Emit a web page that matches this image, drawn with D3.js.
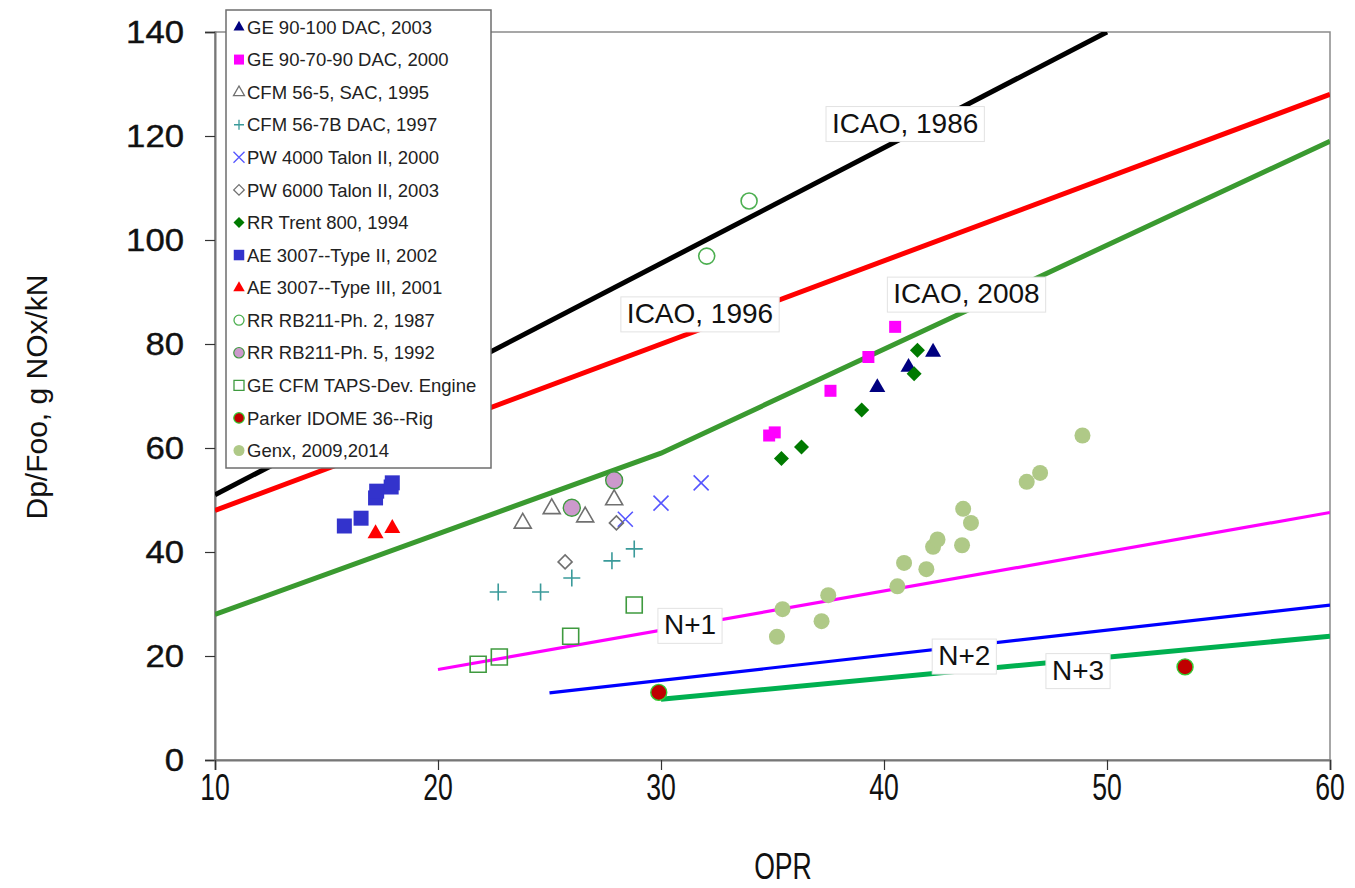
<!DOCTYPE html>
<html>
<head>
<meta charset="utf-8">
<script src="https://cdn.jsdelivr.net/npm/d3@7"></script>
<style>
  body { margin: 0; background: #fff; }
  text { font-family: Arial, "Liberation Sans", sans-serif; }
</style>
</head>
<body>
<script>
const width = 1355;
const height = 888;

// tick labels
const xTicks = [10, 20, 30, 40, 50, 60];
const yTicks = [0, 20, 40, 60, 80, 100, 120, 140];

// regulation / goal lines [OPR, Dp/Foo]
const icao1986 = [[10, 51], [50, 140]];
const icao1996 = [[10, 48], [60, 128]];
const icao2008 = [[10, 28], [30, 59], [60, 119]];
const nPlus1 = [[20, 17.4], [60, 47.6]];
const nPlus2 = [[25, 12.9], [60, 29.8]];
const nPlus3 = [[30, 11.7], [60, 23.8]];

// engine data [OPR, Dp/Foo]
const ge90_100 = [[39.7, 71.7], [41.1, 75.6], [42.2, 78.5]];
const ge90_7090 = [[34.85, 62.4], [35.1, 63.0], [37.6, 71.0], [39.3, 77.5], [40.5, 83.3]];
const cfm56_5 = [[23.8, 45.6], [25.1, 48.4], [26.6, 46.8], [27.9, 50.1]];
const cfm56_7b = [[22.7, 32.3], [24.6, 32.3], [26.0, 35.0], [27.8, 38.3], [28.8, 40.6]];
const pw4000 = [[28.4, 46.3], [30.0, 49.4], [31.8, 53.3]];
const pw6000 = [[25.7, 38.1], [28.0, 45.6]];
const trent800 = [[35.4, 58.0], [36.3, 60.2], [39.0, 67.3], [41.35, 74.3], [41.5, 78.8]];
const ae3007t2 = [[15.8, 45.0], [16.55, 46.5], [17.2, 50.4], [17.25, 51.7], [17.9, 52.5], [17.95, 53.3]];
const ae3007t3 = [[17.2, 43.6], [17.95, 44.6]];
const rb211ph2 = [[32.05, 96.9], [33.95, 107.5]];
const rb211ph5 = [[26.0, 48.5], [27.9, 53.8]];
const tapsDev = [[21.8, 18.4], [22.75, 19.8], [25.95, 23.8], [28.8, 29.8]];
const parkerIdome = [[29.9, 13.0], [53.5, 17.9]];
const genx = [[35.2, 23.7], [35.45, 29.0], [37.2, 26.7], [37.5, 31.7], [40.6, 33.4],
  [40.9, 37.9], [41.9, 36.7], [42.2, 41.0], [42.4, 42.4], [43.5, 41.3], [43.55, 48.3],
  [43.9, 45.6], [46.4, 53.5], [47.0, 55.2], [48.9, 62.4]];

const legendNames = ['GE 90-100 DAC, 2003', 'GE 90-70-90 DAC, 2000', 'CFM 56-5, SAC, 1995',
  'CFM 56-7B DAC, 1997', 'PW 4000 Talon II, 2000', 'PW 6000 Talon II, 2003', 'RR Trent 800, 1994',
  'AE 3007--Type II, 2002', 'AE 3007--Type III, 2001', 'RR RB211-Ph. 2, 1987', 'RR RB211-Ph. 5, 1992',
  'GE CFM TAPS-Dev. Engine', 'Parker IDOME 36--Rig', 'Genx, 2009,2014'];

const series = [
  { data: ge90_100, shape: 'triangle', size: 16, legendSize: 11, fill: '#000080', stroke: 'none' },
  { data: ge90_7090, shape: 'square', size: 12, legendSize: 10, fill: '#ff00ff', stroke: 'none' },
  { data: cfm56_5, shape: 'triangle', size: 17, legendSize: 11, fill: 'none', stroke: '#707070' },
  { data: cfm56_7b, shape: 'plus', size: 17, legendSize: 10, fill: 'none', stroke: '#3a9a9a' },
  { data: pw4000, shape: 'times', size: 15, legendSize: 11, fill: 'none', stroke: '#5555ff' },
  { data: pw6000, shape: 'diamond', size: 14, legendSize: 10.5, fill: 'none', stroke: '#707070' },
  { data: trent800, shape: 'diamond', size: 15, legendSize: 11, fill: '#007a00', stroke: 'none' },
  { data: ae3007t2, shape: 'square', size: 15, legendSize: 10.5, fill: '#3333cc', stroke: 'none' },
  { data: ae3007t3, shape: 'triangle', size: 16, legendSize: 11.5, fill: '#ff0000', stroke: 'none' },
  { data: rb211ph2, shape: 'circle', size: 16, legendSize: 10, fill: 'none', stroke: '#4caf50' },
  { data: rb211ph5, shape: 'circle', size: 17, legendSize: 10.5, fill: '#cc99cc', stroke: '#3f9a3f' },
  { data: tapsDev, shape: 'square', size: 16, legendSize: 10, fill: 'none', stroke: '#3f9a3f' },
  { data: parkerIdome, shape: 'circle', size: 16, legendSize: 10.5, fill: '#c00000', stroke: '#33cc33' },
  { data: genx, shape: 'circle', size: 16, legendSize: 11, fill: '#afc987', stroke: 'none' },
];

const lines = [
  { data: icao1986, color: '#000000', w: 5 },
  { data: icao1996, color: '#ff0000', w: 5 },
  { data: icao2008, color: '#3a9a30', w: 5 },
  { data: nPlus1, color: '#ff00ff', w: 3.2 },
  { data: nPlus2, color: '#0000ff', w: 3.2 },
  { data: nPlus3, color: '#00b050', w: 5 },
];

const lineLabels = [
  { text: 'ICAO, 1986', at: [40.95, 122.6] },
  { text: 'ICAO, 1996', at: [31.75, 86.0] },
  { text: 'ICAO, 2008', at: [43.7, 89.8] },
  { text: 'N+1', at: [31.3, 26.1] },
  { text: 'N+2', at: [43.6, 20.2] },
  { text: 'N+3', at: [48.7, 17.4] },
];

const x = d3.scaleLinear().domain([10, 60]).range([215, 1330]);
const y = d3.scaleLinear().domain([0, 140]).range([760, 32]);

function markerPath(shape, s) {
  const h = s / 2;
  switch (shape) {
    case 'triangle':
      return `M0,${-0.56 * s}L${h},${0.31 * s}L${-h},${0.31 * s}Z`;
    case 'square':
      return `M${-h},${-h}H${h}V${h}H${-h}Z`;
    case 'diamond':
      return `M0,${-h}L${h},0L0,${h}L${-h},0Z`;
    case 'plus':
      return `M${-h},0H${h}M0,${-h}V${h}`;
    case 'times':
      return `M${-h},${-h}L${h},${h}M${h},${-h}L${-h},${h}`;
    default:
      return `M${h},0A${h},${h} 0 1,1 ${-h},0A${h},${h} 0 1,1 ${h},0Z`;
  }
}

const svg = d3.select('body').append('svg')
  .attr('width', width)
  .attr('height', height)
  .attr('viewBox', `0 0 ${width} ${height}`);

svg.append('rect').attr('width', width).attr('height', height).attr('fill', '#fff');

svg.append('defs').append('clipPath').attr('id', 'plotclip')
  .append('rect')
  .attr('x', x(10)).attr('y', y(140))
  .attr('width', x(60) - x(10)).attr('height', y(0) - y(140));

// frame
svg.append('rect')
  .attr('x', x(10)).attr('y', y(140))
  .attr('width', x(60) - x(10)).attr('height', y(0) - y(140))
  .attr('fill', 'none')
  .attr('stroke', '#8a8a8a')
  .attr('stroke-width', 1.5);

// y axis
const yAxis = svg.append('g').attr('transform', `translate(${x(10)},0)`)
  .call(d3.axisLeft(y).tickValues(yTicks).tickSize(10).tickFormat(''));
yAxis.select('.domain').attr('stroke', '#777').attr('stroke-width', 2);
yAxis.selectAll('.tick line').attr('stroke', '#333').attr('stroke-width', 1.2);

svg.append('g').selectAll('text')
  .data(yTicks)
  .join('text')
  .attr('transform', d => `translate(184,${y(d) + 11}) scale(1.12,1)`)
  .attr('text-anchor', 'end')
  .attr('font-size', 31)
  .attr('fill', '#111')
  .attr('stroke', '#111')
  .attr('stroke-width', 0.4)
  .text(d => d);

// x axis
const xAxis = svg.append('g').attr('transform', `translate(0,${y(0)})`)
  .call(d3.axisBottom(x).tickValues(xTicks).tickSize(10).tickFormat(''));
xAxis.select('.domain').attr('stroke', '#777').attr('stroke-width', 2);
xAxis.selectAll('.tick line').attr('stroke', '#333').attr('stroke-width', 1.2);

svg.append('g').selectAll('text')
  .data(xTicks)
  .join('text')
  .attr('transform', d => `translate(${x(d)},800) scale(0.72,1)`)
  .attr('text-anchor', 'middle')
  .attr('font-size', 37)
  .attr('fill', '#111')
  .text(d => d);

svg.append('text')
  .attr('transform', 'translate(783,879) scale(0.72,1)')
  .attr('text-anchor', 'middle')
  .attr('font-size', 37)
  .attr('fill', '#111')
  .text('OPR');

svg.append('text')
  .attr('transform', 'translate(47,397) rotate(-90)')
  .attr('text-anchor', 'middle')
  .attr('font-size', 30)
  .attr('fill', '#111')
  .text('Dp/Foo, g NOx/kN');

// lines
const line = d3.line().x(d => x(d[0])).y(d => y(d[1]));

svg.append('g').attr('clip-path', 'url(#plotclip)')
  .selectAll('path')
  .data(lines)
  .join('path')
  .attr('d', d => line(d.data))
  .attr('fill', 'none')
  .attr('stroke', d => d.color)
  .attr('stroke-width', d => d.w);

// line labels with white boxes
const labelG = svg.append('g');
lineLabels.forEach((l) => {
  const g = labelG.append('g');
  const t = g.append('text')
    .attr('x', x(l.at[0]))
    .attr('y', y(l.at[1]))
    .attr('dy', '0.36em')
    .attr('text-anchor', 'middle')
    .attr('font-size', 28)
    .attr('fill', '#111')
    .text(l.text);
  const bb = t.node().getBBox();
  g.insert('rect', 'text')
    .attr('x', bb.x - 6)
    .attr('y', bb.y - 1)
    .attr('width', bb.width + 12)
    .attr('height', bb.height + 4)
    .attr('fill', '#fff')
    .attr('stroke', '#e2e2e2')
    .attr('stroke-width', 1);
});

// points
const pts = svg.append('g');
series.forEach((s) => {
  pts.append('g').selectAll('path')
    .data(s.data)
    .join('path')
    .attr('transform', d => `translate(${x(d[0])},${y(d[1])})`)
    .attr('d', markerPath(s.shape, s.size))
    .attr('fill', s.fill)
    .attr('stroke', s.stroke)
    .attr('stroke-width', s.fill === 'none' ? 1.6 : 1.4);
});

// legend
const legend = svg.append('g');
legend.append('rect')
  .attr('x', 226).attr('y', 10)
  .attr('width', 265).attr('height', 458)
  .attr('fill', '#fff')
  .attr('stroke', '#6e6e6e')
  .attr('stroke-width', 1.5);

const rowY = d3.scaleLinear().domain([0, 13]).range([27, 450.5]);

series.forEach((s, i) => {
  legend.append('path')
    .attr('transform', `translate(239,${rowY(i)})`)
    .attr('d', markerPath(s.shape, s.legendSize))
    .attr('fill', s.fill)
    .attr('stroke', s.stroke)
    .attr('stroke-width', s.fill === 'none' ? 1.3 : 1.2);
  legend.append('text')
    .attr('x', 247)
    .attr('y', rowY(i))
    .attr('dy', '0.36em')
    .attr('font-size', 18.5)
    .attr('fill', '#222')
    .text(legendNames[i]);
});
</script>
</body>
</html>
